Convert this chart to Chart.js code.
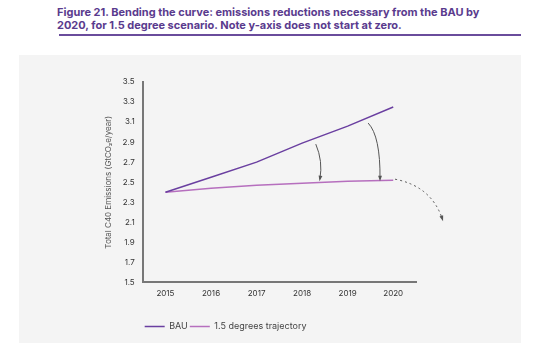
<!DOCTYPE html>
<html>
<head>
<meta charset="utf-8">
<script src="https://cdn.jsdelivr.net/npm/chart.js@4.4.0/dist/chart.umd.min.js"></script>
<style>
  html, body { margin: 0; padding: 0; background: #fff; }
  body { width: 554px; height: 361px; position: relative; overflow: hidden; font-family: Inter, "Open Sans", sans-serif; }
  #title {
    position: absolute; left: 57px; top: 6px; width: 430px;
    color: #5a3b8e; font-weight: 700; font-size: 11px; line-height: 13px;
  }
  #rule { position: absolute; left: 59px; top: 34px; width: 462px; height: 2px; background: #6a4c9c; }
  #panel { position: absolute; left: 19px; top: 55px; width: 502px; height: 288px; background: #f4f4f4; }
</style>
</head>
<body>
<div id="title">Figure 21. Bending the curve: emissions reductions necessary from the BAU by 2020, for 1.5 degree scenario. Note y-axis does not start at zero.</div>
<div id="rule"></div>
<div id="panel"><canvas id="myChart" width="502" height="288"></canvas></div>
<script>
        // setup
        const years = [2015, 2016, 2017, 2018, 2019, 2020];
        const bau = [2.40, 2.55, 2.70, 2.89, 3.06, 3.25];
        const trajectory = [2.40, 2.44, 2.47, 2.49, 2.51, 2.52];
        const yTicks = [1.5, 1.7, 1.9, 2.1, 2.3, 2.5, 2.7, 2.9, 3.1, 3.3, 3.5];

        // curved arrows in data units: start, control, end
        const arrowStarts = [[2018.30, 2.88], [2019.45, 3.09], [2020.04, 2.53]];
        const arrowCtrls = [[2018.46, 2.71], [2019.72, 2.96], [2020.84, 2.46]];
        const arrowEnds = [[2018.39, 2.53], [2019.71, 2.53], [2021.08, 2.13]];
        const arrowDashed = [false, false, true];

        const arrows = {
            id: 'arrows',
            afterDatasetsDraw(chart) {
                const ctx = chart.ctx;
                const xs = chart.scales.x, ys = chart.scales.y;
                const px = p => [xs.getPixelForValue(p[0]), ys.getPixelForValue(p[1])];
                ctx.save();
                ctx.strokeStyle = '#555';
                ctx.fillStyle = '#555';
                ctx.lineWidth = 1;
                arrowStarts.forEach((s, i) => {
                    const a = px(s), c = px(arrowCtrls[i]), b = px(arrowEnds[i]);
                    ctx.setLineDash(arrowDashed[i] ? [2, 3] : []);
                    ctx.beginPath();
                    ctx.moveTo(a[0], a[1]);
                    ctx.quadraticCurveTo(c[0], c[1], b[0], b[1]);
                    ctx.stroke();
                    ctx.setLineDash([]);
                    const ang = Math.atan2(b[1] - c[1], b[0] - c[0]);
                    ctx.beginPath();
                    ctx.moveTo(b[0] + Math.cos(ang) * 2, b[1] + Math.sin(ang) * 2);
                    ctx.lineTo(b[0] - Math.cos(ang - 0.5) * 4, b[1] - Math.sin(ang - 0.5) * 4);
                    ctx.lineTo(b[0] - Math.cos(ang + 0.5) * 4, b[1] - Math.sin(ang + 0.5) * 4);
                    ctx.closePath();
                    ctx.fill();
                });
                ctx.restore();
            }
        };

        const data = {
            datasets: [{
                label: 'BAU',
                data: years.map((y, i) => ({x: y, y: bau[i]})),
                borderColor: '#6a3fa0',
                backgroundColor: '#6a3fa0',
                borderWidth: 1.5,
                pointRadius: 0
            }, {
                label: '1.5 degrees trajectory',
                data: years.map((y, i) => ({x: y, y: trajectory[i]})),
                borderColor: '#b66fbe',
                backgroundColor: '#b66fbe',
                borderWidth: 1.5,
                pointRadius: 0
            }]
        };

        const config = {
            type: 'line',
            data,
            plugins: [arrows],
            options: {
                responsive: false,
                animation: false,
                layout: { padding: { left: 85, right: 105, top: 27, bottom: 2 } },
                plugins: {
                    tooltip: { enabled: false },
                    legend: {
                        position: 'bottom',
                        align: 'start',
                        fullSize: false,
                        labels: {
                            usePointStyle: true,
                            pointStyle: 'line',
                            pointStyleWidth: 20,
                            padding: 2,
                            color: '#444',
                            font: { family: 'Inter', size: 9 }
                        }
                    }
                },
                scales: {
                    x: {
                        type: 'linear',
                        min: 2014.5,
                        max: 2020.5,
                        afterBuildTicks: s => { s.ticks = years.map(v => ({value: v})); },
                        afterFit: s => { s.height += 16; },
                        grid: { display: false, drawTicks: false },
                        border: { color: '#777', width: 2 },
                        ticks: {
                            callback: v => String(v),
                            color: '#333',
                            padding: 6,
                            font: { family: 'Inter', size: 8 }
                        }
                    },
                    y: {
                        min: 1.5,
                        max: 3.5,
                        afterBuildTicks: s => { s.ticks = yTicks.map(v => ({value: v})); },
                        grid: { display: false, drawTicks: false },
                        border: { color: '#777', width: 2 },
                        title: {
                            display: true,
                            text: 'Total C40 Emissions (GtCO\u2082e/year)',
                            color: '#555',
                            padding: { top: 0, bottom: 1 },
                            font: { family: 'Inter', size: 8 }
                        },
                        ticks: {
                            callback: v => v.toFixed(1),
                            color: '#333',
                            padding: 8,
                            font: { family: 'Inter', size: 8 }
                        }
                    }
                }
            }
        };

        var myChart = new Chart(
            document.getElementById('myChart'),
            config
        );
</script>
</body>
</html>
